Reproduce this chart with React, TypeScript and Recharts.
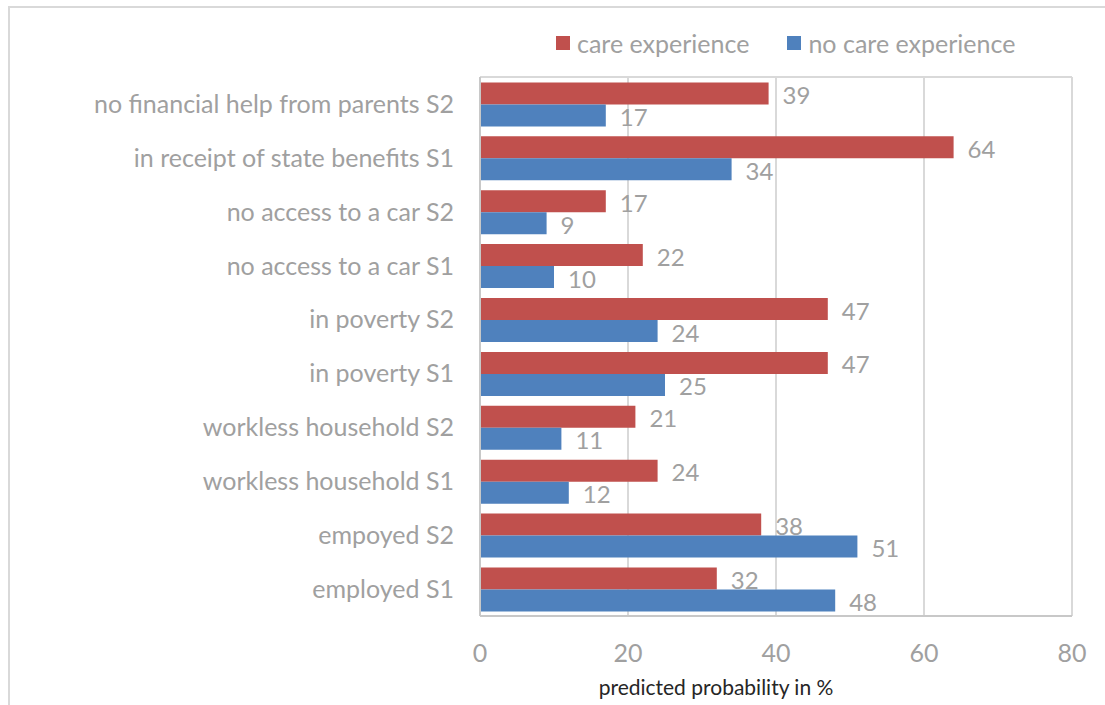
import React from "react";
import {
  BarChart,
  Bar,
  XAxis,
  YAxis,
  CartesianGrid,
  LabelList,
} from "recharts";

const CATEGORIES = [
  "no financial help from parents S2",
  "in receipt of state benefits S1",
  "no access to a car S2",
  "no access to a car S1",
  "in poverty S2",
  "in poverty S1",
  "workless household S2",
  "workless household S1",
  "empoyed S2",
  "employed S1",
];
const CARE = [39, 64, 17, 22, 47, 47, 21, 24, 38, 32];
const NO_CARE = [17, 34, 9, 10, 24, 25, 11, 12, 51, 48];
const X_TICKS = [0, 20, 40, 60, 80];

const SERIES = [
  { key: "care", name: "care experience", color: "#C0504D" },
  { key: "noCare", name: "no care experience", color: "#4F81BD" },
];

const FONT = "Lato, 'Open Sans', sans-serif";
const GREY = "#a0a0a0";

const data = CATEGORIES.map((c, i) => ({
  category: c,
  care: CARE[i],
  noCare: NO_CARE[i],
}));

// legend sits above the plot, outside the chart's own layout
function ChartLegend() {
  return (
    <div
      style={{
        position: "absolute",
        left: 556,
        top: 28,
        display: "flex",
        gap: 38,
        fontFamily: FONT,
        fontSize: 25,
        color: GREY,
        lineHeight: "30px",
      }}
    >
      {SERIES.map((s) => (
        <div key={s.key} style={{ display: "flex", alignItems: "center", gap: 7 }}>
          <span style={{ width: 14, height: 14, background: s.color, display: "inline-block" }} />
          <span>{s.name}</span>
        </div>
      ))}
    </div>
  );
}

export default function App() {
  return (
    <div
      style={{
        position: "absolute",
        left: 0,
        top: 0,
        width: 1105,
        height: 705,
        background: "#fff",
        overflow: "hidden",
        fontFamily: FONT,
      }}
    >
      <div
        style={{
          position: "absolute",
          left: 8,
          top: 6,
          width: 1200,
          height: 800,
          borderLeft: "2px solid #d9d9d9",
          borderTop: "2px solid #d9d9d9",
        }}
      />
      <BarChart
        width={1105}
        height={705}
        data={data}
        layout="vertical"
        margin={{ top: 77, right: 33, bottom: 29, left: 10 }}
        barCategoryGap="10%"
        barGap={0}
      >
        <CartesianGrid
          stroke="#d9d9d9"
          strokeWidth={2}
          horizontalCoordinatesGenerator={({ offset }: any) => [offset.top, offset.top + offset.height]}
        />
        <XAxis
          type="number"
          domain={[0, 80]}
          ticks={X_TICKS}
          tickLine={false}
          axisLine={{ stroke: "#c8c8c8", strokeWidth: 2 }}
          tickSize={0}
          tickMargin={28}
          height={60}
          tick={{ fill: GREY, fontSize: 25, fontFamily: FONT }}
          label={{
            value: "predicted probability in %",
            position: "bottom",
            offset: 4,
            dx: -60,
            fill: "#262626",
            fontSize: 21,
            fontFamily: FONT,
          }}
        />
        <YAxis
          type="category"
          dataKey="category"
          width={470}
          tickLine={false}
          axisLine={{ stroke: "#c8c8c8", strokeWidth: 2 }}
          tickSize={0}
          tickMargin={26}
          interval={0}
          tick={{ fill: GREY, fontSize: 25, fontFamily: FONT }}
        />
        {SERIES.map((s) => (
          <Bar
            key={s.key}
            dataKey={s.key}
            name={s.name}
            fill={s.color}
            isAnimationActive={false}
          >
            <LabelList
              dataKey={s.key}
              position="right"
              offset={14}
              dy={2}
              fill={GREY}
              fontSize={24}
              fontFamily={FONT}
            />
          </Bar>
        ))}
      </BarChart>
      <ChartLegend />
    </div>
  );
}
